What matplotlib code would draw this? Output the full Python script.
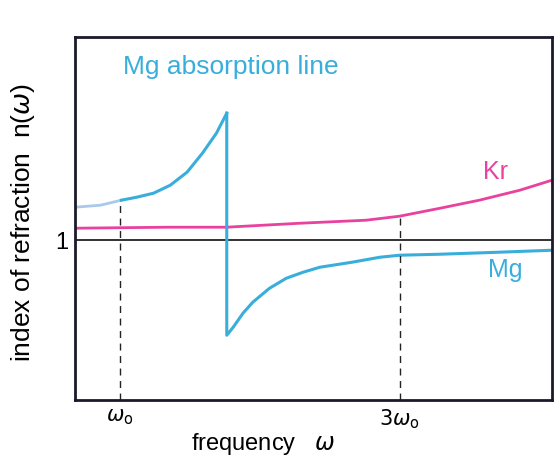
import matplotlib
matplotlib.use("Agg")
import matplotlib.pyplot as plt

plt.rcParams['font.family'] = ['Liberation Sans', 'DejaVu Sans']

# frequency in units of w0, refractive index n
mg_pale_x = [0.68, 0.86, 1.01]
mg_pale_n = [1.165, 1.175, 1.20]

mg_lo_x = [1.01, 1.12, 1.24, 1.36, 1.48, 1.59, 1.69, 1.764]
mg_lo_n = [1.20, 1.215, 1.235, 1.275, 1.34, 1.435, 1.535, 1.635]

mg_hi_x = [1.764, 1.764, 1.81, 1.88, 1.95, 2.07, 2.19, 2.31, 2.43, 2.66,
           2.86, 3.0, 3.29, 3.71, 4.09]
mg_hi_n = [1.635, 0.525, 0.565, 0.635, 0.69, 0.76, 0.81, 0.84, 0.865, 0.89,
           0.915, 0.925, 0.93, 0.94, 0.95]

kr_x = [0.68, 1.34, 1.76, 2.29, 2.76, 3.0, 3.29, 3.57, 3.86, 4.09]
kr_n = [1.06, 1.065, 1.065, 1.085, 1.10, 1.12, 1.16, 1.20, 1.25, 1.30]

tick_pos = [1, 3]
tick_labels = [r'$\omega_\mathrm{o}$', r'$3\omega_\mathrm{o}$']

mg_col = '#3aaedb'
kr_col = '#e8419e'

fig = plt.figure(figsize=(5.57, 4.59), dpi=100)
ax = fig.add_axes([0.135, 0.128, 0.856, 0.791])

ax.axhline(1.0, color='#222222', lw=1.3)
ax.plot(kr_x, kr_n, color=kr_col, lw=2)
ax.plot(mg_pale_x, mg_pale_n, color='#a9c9ea', lw=2)
ax.plot(mg_lo_x, mg_lo_n, color=mg_col, lw=2.2)
ax.plot(mg_hi_x, mg_hi_n, color=mg_col, lw=2.2)

# dashed guides at w0 and 3w0
ax.plot([1, 1], [0.2, 1.20], color='#222222', lw=1, ls=(0, (5, 4)))
ax.plot([3, 3], [0.2, 1.12], color='#222222', lw=1, ls=(0, (5, 4)))

ax.text(1.02, 1.865, 'Mg absorption line', color=mg_col, fontsize=19,
        va='center')
ax.text(3.6, 1.34, 'Kr', color=kr_col, fontsize=18, va='center')
ax.text(3.63, 0.85, 'Mg', color=mg_col, fontsize=18, va='center')

ax.set_xlim(0.68, 4.09)
ax.set_ylim(0.2, 2.015)
ax.set_xticks(tick_pos)
ax.set_xticklabels(tick_labels, fontsize=15)
ax.set_yticks([1])
ax.set_yticklabels(['1'], fontsize=17)
ax.tick_params(axis='both', length=0, pad=5)
ax.set_xlabel(r'frequency   $\omega$', fontsize=17)
ax.xaxis.set_label_coords(0.395, -0.085)
ax.set_ylabel(r'index of refraction  n($\omega$)', fontsize=19)
ax.yaxis.set_label_coords(-0.08, 0.49)
for s in ax.spines.values():
    s.set_linewidth(2)
    s.set_color('#1a1a2a')

fig.savefig('out.png', dpi=100)
